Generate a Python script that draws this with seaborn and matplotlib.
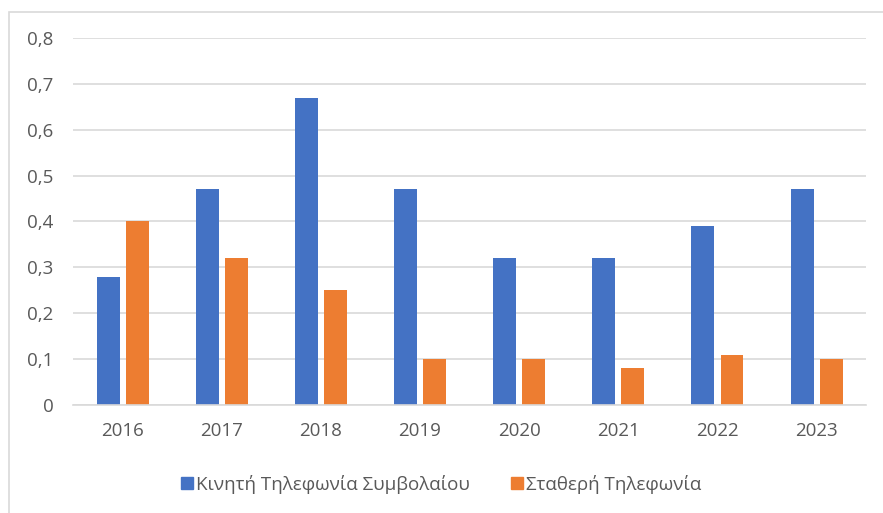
import pandas as pd
import numpy as np
import matplotlib
matplotlib.use("Agg")
import matplotlib.pyplot as plt
import seaborn as sns
from matplotlib.ticker import FuncFormatter, MultipleLocator
from matplotlib.patches import Rectangle

# data
years = ["2016", "2017", "2018", "2019", "2020", "2021", "2022", "2023"]
mobile = [0.28, 0.47, 0.67, 0.47, 0.32, 0.32, 0.39, 0.47]
fixed = [0.40, 0.32, 0.25, 0.10, 0.10, 0.08, 0.11, 0.10]
series_names = ["Κινητή Τηλεφωνία Συμβολαίου", "Σταθερή Τηλεφωνία"]
colors = ["#4472C4", "#ED7D31"]

df = pd.DataFrame({
    "year": years * 2,
    "value": mobile + fixed,
    "series": [series_names[0]] * len(years) + [series_names[1]] * len(years),
})

sns.set_style("white")
plt.rcParams["font.family"] = ["Open Sans", "DejaVu Sans"]
text_color = "#595959"
fs = 13.5

fig = plt.figure(figsize=(8.83, 5.13), dpi=100)
ax = fig.add_axes([0.0827, 0.2105, 0.8983, 0.7155])

sns.barplot(data=df, x="year", y="value", hue="series", palette=colors,
            width=0.586, gap=0.21, linewidth=0, saturation=1, ax=ax)

ax.set_ylim(0, 0.8)
ax.set_xlim(-0.5, len(years) - 0.5)
ax.yaxis.set_major_locator(MultipleLocator(0.1))
ax.yaxis.set_major_formatter(FuncFormatter(
    lambda v, p: "0" if abs(v) < 1e-9 else f"{v:.1f}".replace(".", ",")))
ax.grid(axis="y", color="#D9D9D9", linewidth=1.2)
ax.set_axisbelow(True)
for s in ["top", "right", "left"]:
    ax.spines[s].set_visible(False)
ax.spines["bottom"].set_color("#D9D9D9")
ax.spines["bottom"].set_linewidth(1.2)
ax.tick_params(axis="both", length=0, labelsize=fs, labelcolor=text_color)
ax.tick_params(axis="x", pad=12)
ax.tick_params(axis="y", pad=14)
ax.set_xlabel("")
ax.set_ylabel("")

ax.get_legend().remove()
handles = [plt.Rectangle((0, 0), 1, 1, color=c) for c in colors]
fig.legend(handles, series_names, loc="center", bbox_to_anchor=(0.5, 1 - 484 / 513),
           ncol=2, frameon=False, fontsize=fs, labelcolor=text_color,
           handlelength=0.6, handleheight=0.6, handletextpad=0.2, columnspacing=2.2)

# chart border like the Excel chart frame
fig.patches.append(Rectangle((9 / 883, -0.1), 1.2, (513 - 12) / 513 + 0.1,
                             transform=fig.transFigure, fill=False,
                             edgecolor="#D9D9D9", linewidth=1.2))

fig.savefig("out.png", dpi=100)
